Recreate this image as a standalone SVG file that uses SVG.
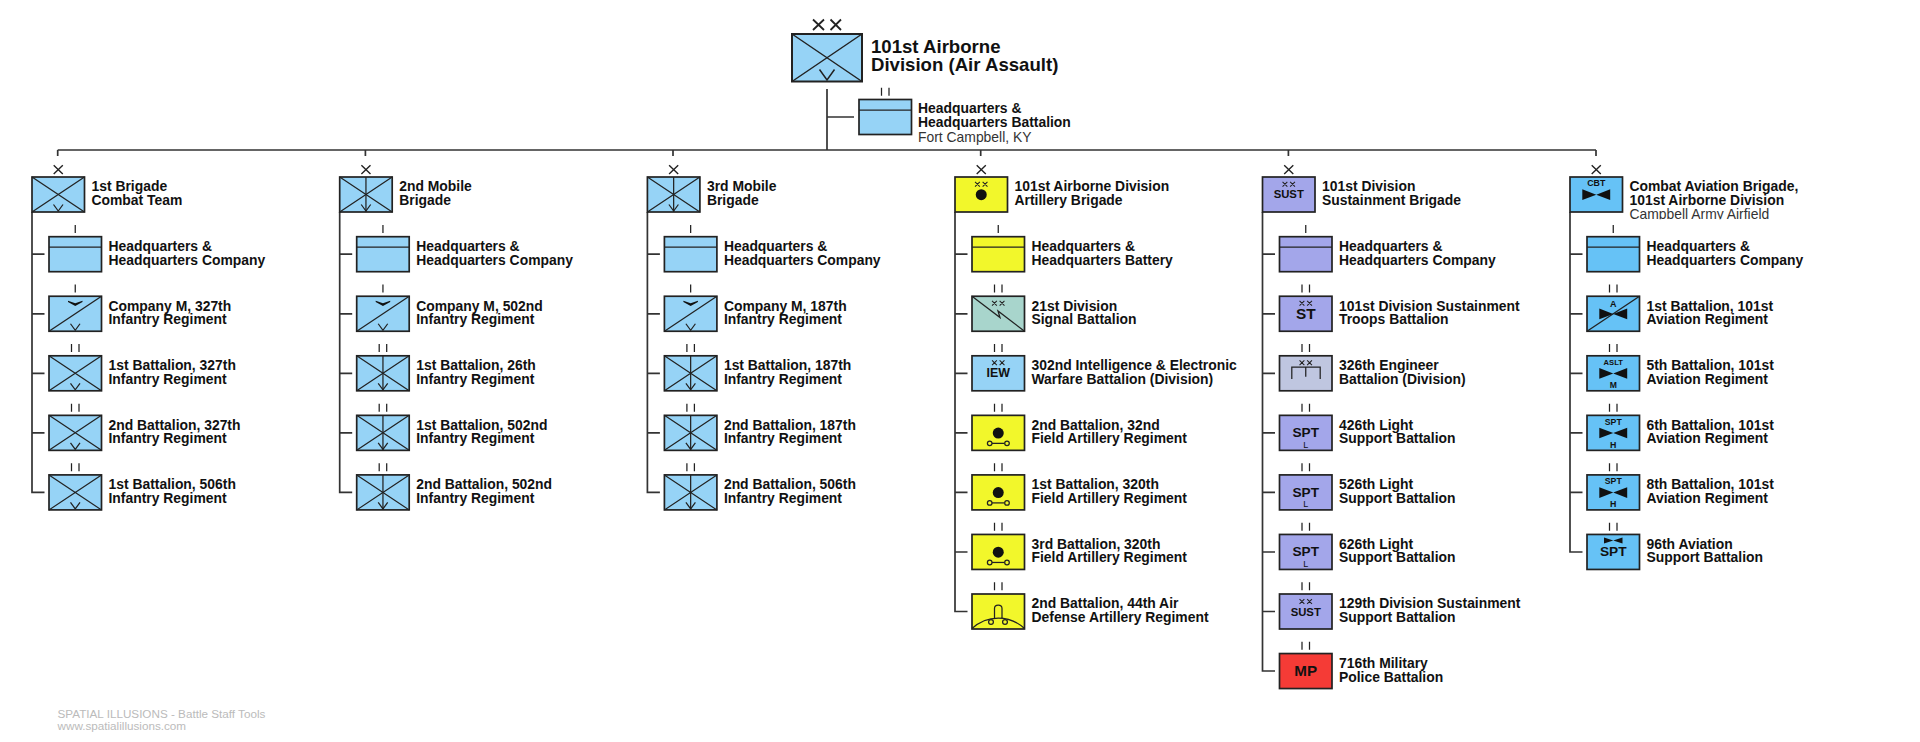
<svg xmlns="http://www.w3.org/2000/svg" width="1920" height="742" viewBox="0 0 1920 742">
<style>
text{font-family:"Liberation Sans",Arial,sans-serif;fill:#111}
.l{font-size:13.9px;font-weight:700}
.s{font-size:13.9px;fill:#333}
.c{text-anchor:middle;font-weight:700}
.box{stroke:#222;stroke-width:1.7}
.ln{fill:none;stroke:#222;stroke-width:1.25}
.k{fill:none;stroke:#333;stroke-width:1.7}
.inf{fill:#96d3f6}.fa{fill:#f2f72b}.sig{fill:#a8d5cc}.sus{fill:#a3a6ea}.eng{fill:#bfc6e0}.mp{fill:#f53b36}.av{fill:#66c2f6}
.f{font-size:11.7px;fill:#bbb}
</style>
<defs>
<clipPath id="clip-air"><rect x="50" y="30" width="260" height="12.2"/></clipPath>
<rect id="r" class="box" width="52.5" height="35"/>
<path id="x" class="ln" d="M0 0L52.5 35M52.5 0L0 35"/>
<path id="v" class="ln" d="M21.5 27.5L26.25 34L31 27.5"/>
<path id="m" class="ln" d="M26.25 0V35"/>
<path id="hq" class="ln" d="M0 10.5H52.5"/>
<path id="sl" class="ln" d="M0 35L52.5 0"/>
<path id="chev" d="M19 4.5L26.25 7L33.5 4.5V5.8L26.25 9.8L19 5.8Z" fill="#111"/>
<path id="e1" class="ln" d="M26.25 -11.7V-3.7"/>
<path id="e2" class="ln" d="M22.5 -11.7V-3.7M30 -11.7V-3.7"/>
<path id="e3" class="ln" style="stroke-width:1.4" d="M21.7 -11.7L30.8 -3M30.8 -11.7L21.7 -3"/>
<path id="xx" fill="none" stroke="#222" stroke-width="1.05" d="M-6.2 -2.4L-1.4 2.4M-1.4 -2.4L-6.2 2.4M1.4 -2.4L6.2 2.4M6.2 -2.4L1.4 2.4"/>
<g id="gun"><circle cx="26.25" cy="17.7" r="5.5" fill="#111"/><path class="ln" d="M20 28H32.5"/><circle class="ln" cx="17.7" cy="28" r="2.3"/><circle class="ln" cx="35" cy="28" r="2.3"/></g>
<path id="bow" d="M12.3 12.3V23L26.25 17.7ZM40.2 12.3V23L26.25 17.7Z" fill="#111"/>
</defs>

<g id="connectors">
<path class="k" d="M827 89V150M827 117H854M57.7 150H1596M57.7 150V156M365.4 150V156M673 150V156M980.7 150V156M1288.4 150V156M1596 150V156"/>
<path class="k" d="M32 212V492.4H44.5M32 254.2H44.5M32 313.8H44.5M32 373.3H44.5M32 432.9H44.5"/>
<path class="k" d="M339.7 212V492.4H352.2M339.7 254.2H352.2M339.7 313.8H352.2M339.7 373.3H352.2M339.7 432.9H352.2"/>
<path class="k" d="M647.4 212V492.4H659.9M647.4 254.2H659.9M647.4 313.8H659.9M647.4 373.3H659.9M647.4 432.9H659.9"/>
<path class="k" d="M955 212V611.5H967.5M955 254.2H967.5M955 313.8H967.5M955 373.3H967.5M955 432.9H967.5M955 492.4H967.5M955 552H967.5"/>
<path class="k" d="M1262.5 212V671H1275M1262.5 254.2H1275M1262.5 313.8H1275M1262.5 373.3H1275M1262.5 432.9H1275M1262.5 492.4H1275M1262.5 552H1275M1262.5 611.5H1275"/>
<path class="k" d="M1570 212V552H1582.5M1570 254.2H1582.5M1570 313.8H1582.5M1570 373.3H1582.5M1570 432.9H1582.5M1570 492.4H1582.5"/>
</g>

<g id="division">
<rect x="792" y="34" width="70" height="47.5" fill="#96d3f6" stroke="#222" stroke-width="2"/>
<path fill="none" stroke="#222" stroke-width="1.5" d="M792 34L862 81.5M862 34L792 81.5M819.5 69.5L827 80L834.5 69.5"/>
<path fill="none" stroke="#222" stroke-width="1.8" d="M813 19.5L824 30M824 19.5L813 30M830.5 19.5L841 30M841 19.5L830.5 30"/>
<text x="871" y="53" style="font-size:18.6px;font-weight:700">101st Airborne</text>
<text x="871" y="71" style="font-size:18.6px;font-weight:700">Division (Air Assault)</text>
</g>
<g id="div-hq" transform="translate(859 99.5)"><use href="#r" class="inf"/><use href="#hq"/><use href="#e2"/><text class="l" x="59" y="13.9">Headquarters &amp;</text><text class="l" x="59" y="27.7">Headquarters Battalion</text><text class="s" x="59" y="42.2">Fort Campbell, KY</text></g>

<g id="bde1" transform="translate(32 177)"><use href="#r" class="inf"/><use href="#x"/><use href="#v"/><use href="#e3"/><text class="l" x="59.5" y="14.4">1st Brigade</text><text class="l" x="59.5" y="28">Combat Team</text></g>
<g id="c1n1" transform="translate(49 236.7)"><use href="#r" class="inf"/><use href="#hq"/><use href="#e1"/><text class="l" x="59.5" y="14.4">Headquarters &amp;</text><text class="l" x="59.5" y="28">Headquarters Company</text></g>
<g id="c1n2" transform="translate(49 296.25)"><use href="#r" class="inf"/><use href="#sl"/><use href="#v"/><use href="#chev"/><use href="#e1"/><text class="l" x="59.5" y="14.4">Company M, 327th</text><text class="l" x="59.5" y="28">Infantry Regiment</text></g>
<g id="c1n3" transform="translate(49 355.8)"><use href="#r" class="inf"/><use href="#x"/><use href="#v"/><use href="#e2"/><text class="l" x="59.5" y="14.4">1st Battalion, 327th</text><text class="l" x="59.5" y="28">Infantry Regiment</text></g>
<g id="c1n4" transform="translate(49 415.35)"><use href="#r" class="inf"/><use href="#x"/><use href="#v"/><use href="#e2"/><text class="l" x="59.5" y="14.4">2nd Battalion, 327th</text><text class="l" x="59.5" y="28">Infantry Regiment</text></g>
<g id="c1n5" transform="translate(49 474.9)"><use href="#r" class="inf"/><use href="#x"/><use href="#v"/><use href="#e2"/><text class="l" x="59.5" y="14.4">1st Battalion, 506th</text><text class="l" x="59.5" y="28">Infantry Regiment</text></g>

<g id="bde2" transform="translate(339.7 177)"><use href="#r" class="inf"/><use href="#x"/><use href="#m"/><use href="#v"/><use href="#e3"/><text class="l" x="59.5" y="14.4">2nd Mobile</text><text class="l" x="59.5" y="28">Brigade</text></g>
<g id="c2n1" transform="translate(356.7 236.7)"><use href="#r" class="inf"/><use href="#hq"/><use href="#e1"/><text class="l" x="59.5" y="14.4">Headquarters &amp;</text><text class="l" x="59.5" y="28">Headquarters Company</text></g>
<g id="c2n2" transform="translate(356.7 296.25)"><use href="#r" class="inf"/><use href="#sl"/><use href="#v"/><use href="#chev"/><use href="#e1"/><text class="l" x="59.5" y="14.4">Company M, 502nd</text><text class="l" x="59.5" y="28">Infantry Regiment</text></g>
<g id="c2n3" transform="translate(356.7 355.8)"><use href="#r" class="inf"/><use href="#x"/><use href="#m"/><use href="#v"/><use href="#e2"/><text class="l" x="59.5" y="14.4">1st Battalion, 26th</text><text class="l" x="59.5" y="28">Infantry Regiment</text></g>
<g id="c2n4" transform="translate(356.7 415.35)"><use href="#r" class="inf"/><use href="#x"/><use href="#m"/><use href="#v"/><use href="#e2"/><text class="l" x="59.5" y="14.4">1st Battalion, 502nd</text><text class="l" x="59.5" y="28">Infantry Regiment</text></g>
<g id="c2n5" transform="translate(356.7 474.9)"><use href="#r" class="inf"/><use href="#x"/><use href="#m"/><use href="#v"/><use href="#e2"/><text class="l" x="59.5" y="14.4">2nd Battalion, 502nd</text><text class="l" x="59.5" y="28">Infantry Regiment</text></g>

<g id="bde3" transform="translate(647.4 177)"><use href="#r" class="inf"/><use href="#x"/><use href="#m"/><use href="#v"/><use href="#e3"/><text class="l" x="59.5" y="14.4">3rd Mobile</text><text class="l" x="59.5" y="28">Brigade</text></g>
<g id="c3n1" transform="translate(664.4 236.7)"><use href="#r" class="inf"/><use href="#hq"/><use href="#e1"/><text class="l" x="59.5" y="14.4">Headquarters &amp;</text><text class="l" x="59.5" y="28">Headquarters Company</text></g>
<g id="c3n2" transform="translate(664.4 296.25)"><use href="#r" class="inf"/><use href="#sl"/><use href="#v"/><use href="#chev"/><use href="#e1"/><text class="l" x="59.5" y="14.4">Company M, 187th</text><text class="l" x="59.5" y="28">Infantry Regiment</text></g>
<g id="c3n3" transform="translate(664.4 355.8)"><use href="#r" class="inf"/><use href="#x"/><use href="#m"/><use href="#v"/><use href="#e2"/><text class="l" x="59.5" y="14.4">1st Battalion, 187th</text><text class="l" x="59.5" y="28">Infantry Regiment</text></g>
<g id="c3n4" transform="translate(664.4 415.35)"><use href="#r" class="inf"/><use href="#x"/><use href="#m"/><use href="#v"/><use href="#e2"/><text class="l" x="59.5" y="14.4">2nd Battalion, 187th</text><text class="l" x="59.5" y="28">Infantry Regiment</text></g>
<g id="c3n5" transform="translate(664.4 474.9)"><use href="#r" class="inf"/><use href="#x"/><use href="#m"/><use href="#v"/><use href="#e2"/><text class="l" x="59.5" y="14.4">2nd Battalion, 506th</text><text class="l" x="59.5" y="28">Infantry Regiment</text></g>

<g id="bde4" transform="translate(955 177)"><use href="#r" class="fa"/><use href="#xx" x="26.25" y="7.3"/><circle cx="26.25" cy="17.7" r="5.5" fill="#111"/><use href="#e3"/><text class="l" x="59.5" y="14.4">101st Airborne Division</text><text class="l" x="59.5" y="28">Artillery Brigade</text></g>
<g id="c4n1" transform="translate(972 236.7)"><use href="#r" class="fa"/><use href="#hq"/><use href="#e1"/><text class="l" x="59.5" y="14.4">Headquarters &amp;</text><text class="l" x="59.5" y="28">Headquarters Battery</text></g>
<g id="c4n2" transform="translate(972 296.25)"><use href="#r" class="sig"/><path class="ln" d="M0 0L28 21.3L26 14.8L52.5 35"/><use href="#xx" x="26.25" y="7"/><use href="#e2"/><text class="l" x="59.5" y="14.4">21st Division</text><text class="l" x="59.5" y="28">Signal Battalion</text></g>
<g id="c4n3" transform="translate(972 355.8)"><use href="#r" class="inf"/><use href="#xx" x="26.25" y="7"/><text class="c" x="26.25" y="21.5" font-size="12.4">IEW</text><use href="#e2"/><text class="l" x="59.5" y="14.4">302nd Intelligence &amp; Electronic</text><text class="l" x="59.5" y="28">Warfare Battalion (Division)</text></g>
<g id="c4n4" transform="translate(972 415.35)"><use href="#r" class="fa"/><use href="#gun"/><use href="#e2"/><text class="l" x="59.5" y="14.4">2nd Battalion, 32nd</text><text class="l" x="59.5" y="28">Field Artillery Regiment</text></g>
<g id="c4n5" transform="translate(972 474.9)"><use href="#r" class="fa"/><use href="#gun"/><use href="#e2"/><text class="l" x="59.5" y="14.4">1st Battalion, 320th</text><text class="l" x="59.5" y="28">Field Artillery Regiment</text></g>
<g id="c4n6" transform="translate(972 534.45)"><use href="#r" class="fa"/><use href="#gun"/><use href="#e2"/><text class="l" x="59.5" y="14.4">3rd Battalion, 320th</text><text class="l" x="59.5" y="28">Field Artillery Regiment</text></g>
<g id="c4n7" transform="translate(972 594)"><use href="#r" class="fa"/><path class="ln" d="M0 34.5C8 27 18 24 26.25 24C34.5 24 44.5 27 52.5 34.5M22.5 24V14.5Q22.5 11 26.25 11Q30 11 30 14.5V24"/><circle class="ln" cx="19" cy="28" r="2.4" style="fill:#f2f72b"/><circle class="ln" cx="33" cy="28" r="2.4" style="fill:#f2f72b"/><use href="#e2"/><text class="l" x="59.5" y="14.4">2nd Battalion, 44th Air</text><text class="l" x="59.5" y="28">Defense Artillery Regiment</text></g>

<g id="bde5" transform="translate(1262.5 177)"><use href="#r" class="sus"/><use href="#xx" x="26.25" y="7.3"/><text class="c" x="26.25" y="21.3" font-size="11.3">SUST</text><use href="#e3"/><text class="l" x="59.5" y="14.4">101st Division</text><text class="l" x="59.5" y="28">Sustainment Brigade</text></g>
<g id="c5n1" transform="translate(1279.5 236.7)"><use href="#r" class="sus"/><use href="#hq"/><use href="#e1"/><text class="l" x="59.5" y="14.4">Headquarters &amp;</text><text class="l" x="59.5" y="28">Headquarters Company</text></g>
<g id="c5n2" transform="translate(1279.5 296.25)"><use href="#r" class="sus"/><use href="#xx" x="26.25" y="7"/><text class="c" x="26.25" y="22.5" font-size="15.4">ST</text><use href="#e2"/><text class="l" x="59.5" y="14.4">101st Division Sustainment</text><text class="l" x="59.5" y="28">Troops Battalion</text></g>
<g id="c5n3" transform="translate(1279.5 355.8)"><use href="#r" class="eng"/><use href="#xx" x="26.25" y="7"/><path class="ln" d="M12.3 23.3V11.3H40.7V23.3M26.25 11.3V21"/><use href="#e2"/><text class="l" x="59.5" y="14.4">326th Engineer</text><text class="l" x="59.5" y="28">Battalion (Division)</text></g>
<g id="c5n4" transform="translate(1279.5 415.35)"><use href="#r" class="sus"/><text class="c" x="26.25" y="22" font-size="13.6">SPT</text><text x="26.25" y="32.3" font-size="9" text-anchor="middle">L</text><use href="#e2"/><text class="l" x="59.5" y="14.4">426th Light</text><text class="l" x="59.5" y="28">Support Battalion</text></g>
<g id="c5n5" transform="translate(1279.5 474.9)"><use href="#r" class="sus"/><text class="c" x="26.25" y="22" font-size="13.6">SPT</text><text x="26.25" y="32.3" font-size="9" text-anchor="middle">L</text><use href="#e2"/><text class="l" x="59.5" y="14.4">526th Light</text><text class="l" x="59.5" y="28">Support Battalion</text></g>
<g id="c5n6" transform="translate(1279.5 534.45)"><use href="#r" class="sus"/><text class="c" x="26.25" y="22" font-size="13.6">SPT</text><text x="26.25" y="32.3" font-size="9" text-anchor="middle">L</text><use href="#e2"/><text class="l" x="59.5" y="14.4">626th Light</text><text class="l" x="59.5" y="28">Support Battalion</text></g>
<g id="c5n7" transform="translate(1279.5 594)"><use href="#r" class="sus"/><use href="#xx" x="26.25" y="7.5"/><text class="c" x="26.25" y="22" font-size="11.3">SUST</text><use href="#e2"/><text class="l" x="59.5" y="14.4">129th Division Sustainment</text><text class="l" x="59.5" y="28">Support Battalion</text></g>
<g id="c5n8" transform="translate(1279.5 653.55)"><use href="#r" class="mp"/><text class="c" x="26.25" y="22.3" font-size="15.2">MP</text><use href="#e2"/><text class="l" x="59.5" y="14.4">716th Military</text><text class="l" x="59.5" y="28">Police Battalion</text></g>

<g id="bde6" transform="translate(1570 177)"><use href="#r" class="av"/><use href="#bow"/><text class="c" x="26.25" y="9.3" font-size="8.8">CBT</text><use href="#e3"/><text class="l" x="59.5" y="14.4">Combat Aviation Brigade,</text><text class="l" x="59.5" y="28">101st Airborne Division</text><text class="s" x="59.5" y="42.2" clip-path="url(#clip-air)">Campbell Army Airfield</text></g>
<g id="c6n1" transform="translate(1587 236.7)"><use href="#r" class="av"/><use href="#hq"/><use href="#e1"/><text class="l" x="59.5" y="14.4">Headquarters &amp;</text><text class="l" x="59.5" y="28">Headquarters Company</text></g>
<g id="c6n2" transform="translate(1587 296.25)"><use href="#r" class="av"/><use href="#sl"/><use href="#bow"/><text class="c" x="26.25" y="10.3" font-size="9">A</text><use href="#e2"/><text class="l" x="59.5" y="14.4">1st Battalion, 101st</text><text class="l" x="59.5" y="28">Aviation Regiment</text></g>
<g id="c6n3" transform="translate(1587 355.8)"><use href="#r" class="av"/><use href="#bow"/><text class="c" x="26.25" y="9" font-size="7.6">ASLT</text><text class="c" x="26.25" y="32.3" font-size="8.6">M</text><use href="#e2"/><text class="l" x="59.5" y="14.4">5th Battalion, 101st</text><text class="l" x="59.5" y="28">Aviation Regiment</text></g>
<g id="c6n4" transform="translate(1587 415.35)"><use href="#r" class="av"/><use href="#bow"/><text class="c" x="26.25" y="9.5" font-size="8.7">SPT</text><text class="c" x="26.25" y="32.3" font-size="8.8">H</text><use href="#e2"/><text class="l" x="59.5" y="14.4">6th Battalion, 101st</text><text class="l" x="59.5" y="28">Aviation Regiment</text></g>
<g id="c6n5" transform="translate(1587 474.9)"><use href="#r" class="av"/><use href="#bow"/><text class="c" x="26.25" y="9.5" font-size="8.7">SPT</text><text class="c" x="26.25" y="32.3" font-size="8.8">H</text><use href="#e2"/><text class="l" x="59.5" y="14.4">8th Battalion, 101st</text><text class="l" x="59.5" y="28">Aviation Regiment</text></g>
<g id="c6n6" transform="translate(1587 534.45)"><use href="#r" class="av"/><path d="M17 3V9L26.25 6ZM35.5 3V9L26.25 6Z" fill="#111"/><text class="c" x="26.25" y="21.8" font-size="13.7">SPT</text><use href="#e2"/><text class="l" x="59.5" y="14.4">96th Aviation</text><text class="l" x="59.5" y="28">Support Battalion</text></g>

<g id="footer"><text class="f" x="57.5" y="717.5">SPATIAL ILLUSIONS - Battle Staff Tools</text><text class="f" x="57.5" y="729.5">www.spatialillusions.com</text></g>
</svg>
